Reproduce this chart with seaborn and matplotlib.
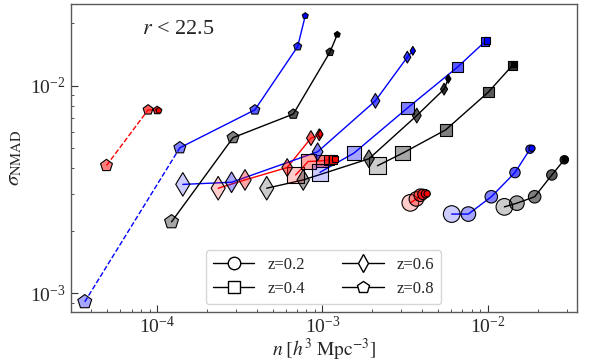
import numpy as np
import pandas as pd
import matplotlib.pyplot as plt
import matplotlib.lines as mlines
import matplotlib.colors as mcolors
from matplotlib.ticker import NullFormatter
import seaborn as sns

# values: number density n and sigma_NMAD
# z=0.2 (circles)
n_red_z02 = [3.4e-3, 3.7e-3, 3.9e-3, 4.05e-3, 4.2e-3, 4.3e-3]
s_red_z02 = [2.73e-3, 2.85e-3, 2.97e-3, 3.0e-3, 3.02e-3, 3.02e-3]
n_blue_z02 = [6.05e-3, 7.63e-3, 1.05e-2, 1.46e-2, 1.80e-2, 1.85e-2]
s_blue_z02 = [2.41e-3, 2.41e-3, 2.92e-3, 3.82e-3, 4.95e-3, 5.0e-3]
n_black_z02 = [1.26e-2, 1.50e-2, 1.92e-2, 2.44e-2, 2.90e-2, 2.94e-2]
s_black_z02 = [2.61e-3, 2.72e-3, 2.92e-3, 3.72e-3, 4.40e-3, 4.43e-3]

# z=0.4 (squares)
n_red_z04 = [6.88e-4, 8.2e-4, 9.93e-4, 1.095e-3, 1.158e-3, 1.19e-3]
s_red_z04 = [3.72e-3, 4.32e-3, 4.35e-3, 4.40e-3, 4.42e-3, 4.43e-3]
n_blue_z04 = [9.66e-4, 1.55e-3, 3.26e-3, 6.55e-3, 9.63e-3, 9.86e-3]
s_blue_z04 = [3.83e-3, 4.74e-3, 7.81e-3, 1.23e-2, 1.635e-2, 1.654e-2]
n_black_z04 = [2.15e-3, 3.06e-3, 5.57e-3, 1.008e-2, 1.41e-2, 1.44e-2]
s_black_z04 = [4.12e-3, 4.74e-3, 6.14e-3, 9.33e-3, 1.255e-2, 1.276e-2]

# z=0.6 (diamonds)
n_red_z06 = [2.34e-4, 3.40e-4, 6.12e-4, 8.52e-4, 9.56e-4, 9.7e-4]
s_red_z06 = [3.21e-3, 3.52e-3, 4.04e-3, 5.60e-3, 5.81e-3, 5.85e-3]
n_blue_z06 = [1.43e-4, 2.82e-4, 9.35e-4, 2.09e-3, 3.26e-3, 3.52e-3]
s_blue_z06 = [3.35e-3, 3.43e-3, 4.81e-3, 8.47e-3, 1.375e-2, 1.475e-2]
n_black_z06 = [4.60e-4, 7.65e-4, 1.91e-3, 3.72e-3, 5.44e-3, 5.77e-3]
s_black_z06 = [3.21e-3, 3.52e-3, 4.45e-3, 7.19e-3, 9.64e-3, 1.081e-2]

# z=0.8 (pentagons)
n_red_z08 = [4.94e-5, 8.82e-5, 1.0e-4, 1.024e-4]
s_red_z08 = [4.13e-3, 7.66e-3, 7.62e-3, 7.6e-3]
n_blue_z08 = [3.65e-5, 1.372e-4, 3.90e-4, 7.08e-4, 7.87e-4]
s_blue_z08 = [9.1e-4, 5.03e-3, 7.66e-3, 1.547e-2, 2.175e-2]
n_black_z08 = [1.222e-4, 2.88e-4, 6.66e-4, 1.11e-3, 1.229e-3]
s_black_z08 = [2.21e-3, 5.63e-3, 7.31e-3, 1.454e-2, 1.767e-2]

z_labels = ["z=0.2", "z=0.4", "z=0.6", "z=0.8"]
markers = ["o", "s", "d", "p"]

series = [
    (n_red_z02, s_red_z02, "red", "o", False),
    (n_blue_z02, s_blue_z02, "blue", "o", False),
    (n_black_z02, s_black_z02, "black", "o", False),
    (n_red_z04, s_red_z04, "red", "s", False),
    (n_blue_z04, s_blue_z04, "blue", "s", False),
    (n_black_z04, s_black_z04, "black", "s", False),
    (n_red_z06, s_red_z06, "red", "d", False),
    (n_blue_z06, s_blue_z06, "blue", "d", False),
    (n_black_z06, s_black_z06, "black", "d", False),
    (n_red_z08, s_red_z08, "red", "p", True),
    (n_blue_z08, s_blue_z08, "blue", "p", True),
    (n_black_z08, s_black_z08, "black", "p", False),
]

# marker size / opacity along each sequence (big+pale -> small+dark)
sizes = [12, 10.5, 9, 7.5, 6, 4.5]
alphas = [0.2, 0.35, 0.5, 0.65, 0.8, 1.0]

sns.set_style("ticks")
plt.rcParams["font.family"] = ["Liberation Serif", "DejaVu Serif"]
plt.rcParams["mathtext.fontset"] = "stix"

fig, ax = plt.subplots(figsize=(5.98, 3.64), dpi=100)
fig.subplots_adjust(left=0.1182, right=0.9644, bottom=0.142, top=0.989)
ax.set_xscale("log")
ax.set_yscale("log")

for n, s, col, mk, dashed in series:
    k = len(n)
    steps = [f"s{i}" for i in range(6 - k, 6)]
    df = pd.DataFrame({"n": n, "sigma": s, "step": steps})

    # connecting line (first segment dashed for some samples)
    if dashed:
        sns.lineplot(data=df.iloc[:2], x="n", y="sigma", color=col, lw=1,
                     linestyle="--", sort=False, estimator=None, ax=ax, zorder=2)
        sns.lineplot(data=df.iloc[1:], x="n", y="sigma", color=col, lw=1,
                     sort=False, estimator=None, ax=ax, zorder=2)
    else:
        sns.lineplot(data=df, x="n", y="sigma", color=col, lw=1,
                     sort=False, estimator=None, ax=ax, zorder=2)

    pal = {st: mcolors.to_rgba(col, alphas[int(st[1:])]) for st in steps}
    szs = {st: sizes[int(st[1:])] ** 2 for st in steps}
    sns.scatterplot(data=df, x="n", y="sigma", hue="step", palette=pal,
                    size="step", sizes=szs, marker=mk, edgecolor="k",
                    linewidth=0.8, legend=False, ax=ax, zorder=3)

ax.set_xlim(3e-5, 3.45e-2)
ax.set_ylim(8.1e-4, 2.48e-2)

ax.set_xlabel(r"$n\;[h^3\;{\rm Mpc}^{-3}]$", fontsize=14, labelpad=0)
ax.set_ylabel(r"$\sigma_{\rm NMAD}$", fontsize=15)
ax.tick_params(axis="both", which="both", direction="in", top=False, right=False,
               labelsize=14, color="0.2")
ax.tick_params(axis="x", which="major", pad=2.5)
ax.tick_params(which="major", length=5, width=0.8)
ax.tick_params(which="minor", length=2.5, width=0.6)
ax.xaxis.set_minor_formatter(NullFormatter())
ax.yaxis.set_minor_formatter(NullFormatter())
for sp in ax.spines.values():
    sp.set_color("0.35")
    sp.set_linewidth(1.0)

ax.text(0.14, 0.918, r"$r$ < 22.5", transform=ax.transAxes, fontsize=16,
        va="center", ha="left")

handles = [mlines.Line2D([], [], color="k", lw=1, marker=m, ms=9,
                         mfc="white", mec="k", label=lab)
           for m, lab in zip(markers, z_labels)]
ax.legend(handles=handles, loc="lower center", ncol=2, fontsize=12,
          frameon=True, handlelength=2.5, columnspacing=2.2)

plt.savefig("out.png", dpi=100)
plt.close()
